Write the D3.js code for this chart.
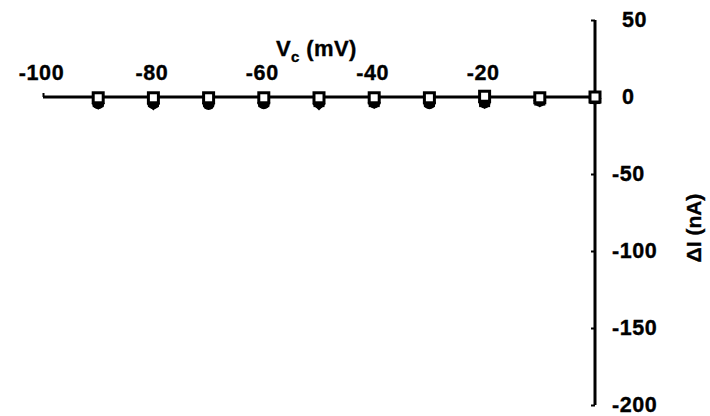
<!DOCTYPE html>
<html><head><meta charset="utf-8">
<script src="https://cdn.jsdelivr.net/npm/d3@7"></script>
<style>
body{margin:0;background:#fff;}
text{font-family:Arial,"Liberation Sans",sans-serif;font-weight:bold;fill:#000;stroke:#000;stroke-width:0.35px;}
</style></head>
<body><svg id="c" width="710" height="416"></svg>
<script>
const voltages = [-90,-80,-70,-60,-50,-40,-30,-20,-10,0];
const circles = [-4,-4,-4.5,-4,-3.5,-3.5,-4,-3.5,-2.5,-1];
const diamonds = [-4,-4.5,-4,-3.5,-4.5,-3.5,-3.5,-3.5,-2.5,-1];
const filledSquares = [-3,-3,-3,-3,-3,-3,-3,-3,-2,-1];
const openSquares = [-0.5,-0.5,-0.5,-0.5,-0.5,-0.5,-0.5,0.5,-0.5,0];
const xTicks = [-100,-80,-60,-40,-20];
const yTicks = [50,0,-50,-100,-150,-200];

const svg = d3.select("#c");
const x = d3.scaleLinear().domain([-100,0]).range([43,595]);
const y = d3.scaleLinear().domain([-200,50]).range([405,20]);

const gx = svg.append("g").attr("transform",`translate(0,${y(0)})`)
  .call(d3.axisTop(x).tickValues(xTicks).tickSize(4).tickSizeOuter(0).tickFormat(d=>String(d)).tickPadding(13));
gx.select(".domain").attr("stroke","#000").attr("stroke-width",3).attr("d",`M${x(-100)},0H${x(0)}`);
gx.selectAll(".tick line").attr("stroke","#000").attr("stroke-width",2);
gx.selectAll(".tick text").attr("font-size",21.5).attr("letter-spacing","0.6px").attr("dx","-2").attr("dy","0");

const gy = svg.append("g").attr("transform",`translate(${x(0)},0)`)
  .call(d3.axisRight(y).tickValues(yTicks).tickSize(-4).tickSizeOuter(0).tickFormat(d=>String(d)).tickPadding(27));
gy.select(".domain").attr("stroke","#000").attr("stroke-width",3).attr("d",`M0,${y(50)}V${y(-200)}`);
gy.selectAll(".tick line").attr("stroke","#000").attr("stroke-width",2);
gy.selectAll(".tick text").attr("font-size",21.5).attr("letter-spacing","0.6px")
  .attr("x", d => d < 0 ? 17 : 27).attr("text-anchor","start");

const t = svg.append("text").attr("x",276).attr("y",56).attr("font-size",22).attr("letter-spacing","0.4px");
t.append("tspan").text("V");
t.append("tspan").attr("font-size",15).attr("dy",6).text("c");
t.append("tspan").attr("dy",-6).text(" (mV)");

svg.append("text").attr("transform","translate(701,228) rotate(-90)").attr("text-anchor","middle")
  .attr("font-size",21).text("ΔI (nA)");

const pts = arr => voltages.map((v,i)=>({v, val:arr[i]}));
svg.append("g").selectAll("circle").data(pts(circles)).join("circle")
  .attr("cx",d=>x(d.v)).attr("cy",d=>y(d.val)).attr("r",6).attr("fill","#000");
svg.append("g").selectAll("path").data(pts(diamonds)).join("path")
  .attr("transform",d=>`translate(${x(d.v)},${y(d.val)})`)
  .attr("d",d3.symbol(d3.symbolDiamond2,110)).attr("fill","#000");
svg.append("g").selectAll("rect").data(pts(filledSquares)).join("rect")
  .attr("x",d=>x(d.v)-5.5).attr("y",d=>y(d.val)-5.5).attr("width",11).attr("height",11).attr("fill","#000");
svg.append("g").selectAll("rect").data(pts(openSquares)).join("rect")
  .attr("x",d=>x(d.v)-5).attr("y",d=>y(d.val)-5).attr("width",10).attr("height",10)
  .attr("fill","#fff").attr("stroke","#000").attr("stroke-width",3);
</script></body></html>
